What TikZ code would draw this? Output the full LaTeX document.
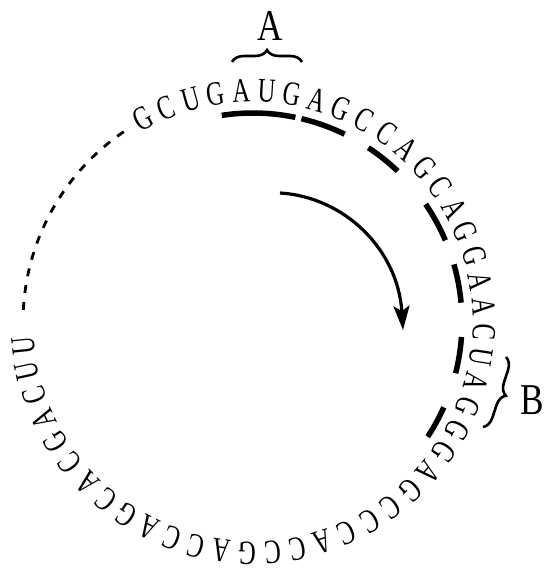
\documentclass[tikz,border=0pt]{standalone}
\usepackage{fontspec}
\setmainfont{Liberation Serif}
\usetikzlibrary{decorations.pathreplacing,arrows.meta}
\begin{document}
\begin{tikzpicture}[x=1pt,y=1pt,
  letter/.style={inner sep=0pt, font=\fontsize{34}{34}\selectfont},
  biglabel/.style={inner sep=0pt, font=\fontsize{44}{44}\selectfont},
  codonbar/.style={line width=5.5pt},
  dashline/.style={line width=2.8pt, dash pattern=on 8pt off 9pt},
  bracestyle/.style={line width=2.6pt, decorate, decoration={brace, amplitude=12pt}},
  arrowline/.style={line width=3.2pt, -{Stealth[length=24pt,width=16pt,inset=5pt]}}]
\useasboundingbox (0,0) rectangle (553,573);
\coordinate (O) at (253,251);
% sequence letters around the circle
\foreach \ch [count=\i from 0] in {G,C,U,G,A,U,G,A,G,C,C,A,G,C,A,G,G,A,A,C,U,A,G,G,G,A,G,C,C,C,A,C,C,G,A,C,C,A,G,C,A,C,G,A,C,U,U}{
  \pgfmathsetmacro\ang{118.4-6.36*\i}
  \node[letter, rotate=\ang-90] (l\i) at ([shift={(\ang:231)}]O) {\scalebox{0.72}[1]{\ch}};
}
% codon bars
\foreach \a/\b in {98.6/78.3, 76.6/64.0, 56.5/46.2, 34.3/23.0, 16.0/5.3, -4.1/-14.2, -24.1/-33.3}{
  \draw[codonbar] ([shift={(\a:209)}]O) arc[start angle=\a, end angle=\b, radius=209];
}
% dashed closing of the circle
\coordinate (dstart) at ([shift={(177:230)}]O);
\draw[dashline] (dstart) arc[start angle=177, end angle=122, radius=230];
% brace A
\coordinate (a1) at (232,511);
\coordinate (a2) at (302,511);
\draw[bracestyle] (a1) -- (a2);
\node[biglabel] (labA) at (270,547) {\scalebox{0.8}[1]{A}};
% brace B
\coordinate (b1) at (506,216);
\coordinate (b2) at (483,146);
\draw[bracestyle] (b1) -- (b2);
\node[biglabel] (labB) at (532,173) {\scalebox{0.8}[1]{B}};
% direction arrow
\coordinate (r1) at (280,380);
\coordinate (r2) at (403,243);
\draw[arrowline] (r1) .. controls (345,376) and (398,323) .. (r2);
\end{tikzpicture}
\end{document}
